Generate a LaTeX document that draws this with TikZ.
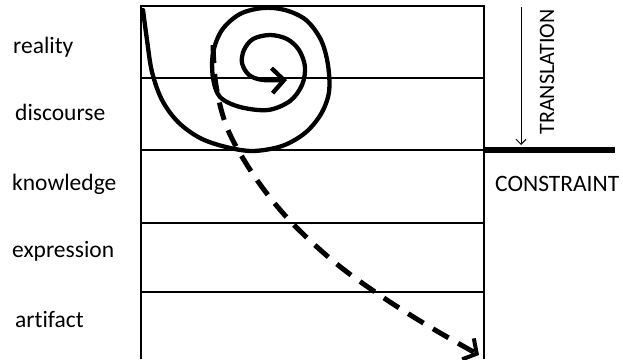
\documentclass[tikz,border=0pt]{standalone}
\usepackage{fontspec}
\setmainfont{Carlito}[Ligatures=NoCommon]
\usetikzlibrary{arrows.meta}

\begin{document}
\begin{tikzpicture}[
    x=1pt, y=-1pt,
    every node/.style={font=\fontsize{23.5}{28}\selectfont, inner sep=0pt},
    layer/.style={anchor=base west},
    rule/.style={line width=1.4pt},
    stroke/.style={line width=4.3pt, line cap=round, line join=round},
    dashstroke/.style={line width=5pt, dash pattern=on 18pt off 11pt, line join=round},
]
\useasboundingbox (0,0) rectangle (623,359);

% Layer labels
\node[layer] (reality) at (13, 53) {reality};
\node[layer] (discourse) at (15, 120) {discourse};
\node[layer] (knowledge) at (12, 190) {knowledge};
\node[layer] (expression) at (12, 257) {expression};
\node[layer] (artifact) at (15, 327) {artifact};

% Box corners and rules
\coordinate (tl) at (141, 6);
\coordinate (tr) at (484, 6);
\coordinate (bl) at (141, 359);
\coordinate (br) at (484, 359);
\coordinate (r1w) at (141, 78);  \coordinate (r1e) at (484, 78);
\coordinate (r2w) at (141, 150); \coordinate (r2e) at (484, 150);
\coordinate (r3w) at (141, 223); \coordinate (r3e) at (484, 223);
\coordinate (r4w) at (141, 292); \coordinate (r4e) at (484, 292);

\draw[rule] (bl) -- (tl) -- (tr) -- (br);
\draw[rule] (r1w) -- (r1e);
\draw[rule] (r2w) -- (r2e);
\draw[rule] (r3w) -- (r3e);
\draw[rule] (r4w) -- (r4e);

% Constraint
\coordinate (cend) at (615, 150);
\draw[line width=6pt] (r2e) -- (cend);
\node[anchor=north west] (constraint) at (495, 176) {CONSTRAINT};

% Translation
\coordinate (tstart) at (521, 7);
\coordinate (tend) at (521, 145);
\draw[line width=1pt, -{Straight Barb[length=5pt, width=10pt]}] (tstart) -- (tend);
\node[rotate=90, font=\fontsize{22}{26}\selectfont] (translation) at (547, 72) {TRANSLATION};

% Spiral
\draw[stroke, -{Straight Barb[length=12pt, width=25pt, line width=4.3pt]}]
    plot[smooth, tension=0.55] coordinates {
    (143,10) (147,40) (152,72) (162,100) (178,122) (200,138) (226,147)
    (253,151) (282,146) (305,133) (321,114) (329,92) (328,65)
    (321,40) (306,20) (285,10) (263,8) (240,14) (222,30) (213,53)
    (213,78) (220,97) (240,107) (268,110) (290,101) (302,85) (305,67)
    (299,50) (287,39) (270,35) (253,39) (244,50) (242,63) (249,75)
    (263,80) (287,80)};

% Dashed path down to the artifact
\draw[dashstroke, -{Straight Barb[length=10pt, width=24pt, line width=4pt]}]
    plot[smooth, tension=0.6] coordinates {
    (213,45) (216,85) (226,125) (244,160) (268,195) (297,228)
    (338,265) (384,298) (430,327) (479,355)};

\end{tikzpicture}
\end{document}
